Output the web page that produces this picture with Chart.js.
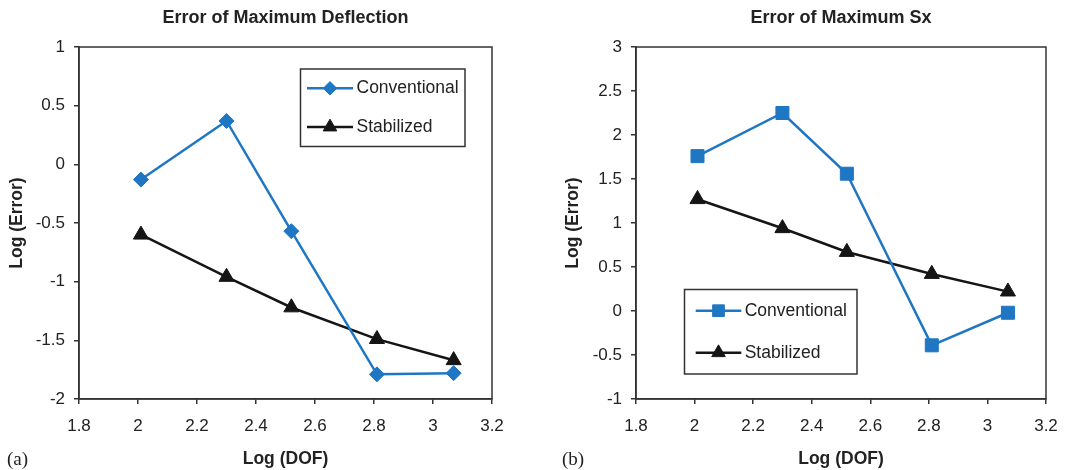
<!DOCTYPE html>
<html>
<head>
<meta charset="utf-8">
<script src="https://cdn.jsdelivr.net/npm/chart.js@4.4.1/dist/chart.umd.min.js"></script>
<style>
  body { margin: 0; background: #fff; }
  #wrap { position: relative; width: 1081px; height: 470px; }
  canvas { position: absolute; top: 0; }
  .tag { position: absolute; top: 448px; font: 19px 'Liberation Serif', 'Times New Roman', serif; color: #222; line-height: 22px; }
</style>
</head>
<body>
<div id="wrap">
  <canvas id="chartA" width="540" height="470" style="left:0"></canvas>
  <canvas id="chartB" width="541" height="470" style="left:540px"></canvas>
  <div class="tag" style="left:7px">(a)</div>
  <div class="tag" style="left:562px">(b)</div>
</div>
<script>
const logDof = [2.01, 2.30, 2.52, 2.81, 3.07];
const deflConventional = [-0.13, 0.37, -0.57, -1.79, -1.78];
const deflStabilized = [-0.60, -0.96, -1.22, -1.49, -1.67];
const sxConventional = [1.76, 2.25, 1.56, -0.39, -0.02];
const sxStabilized = [1.27, 0.94, 0.67, 0.42, 0.22];
const xTicks = [1.8, 2, 2.2, 2.4, 2.6, 2.8, 3, 3.2];
const deflTicks = [-2, -1.5, -1, -0.5, 0, 0.5, 1];
const sxTicks = [-1, -0.5, 0, 0.5, 1, 1.5, 2, 2.5, 3];

const blue = '#1f77c4';
const black = '#151515';
const axisColor = '#333';
const textColor = '#222';
const fontFamily = "'Liberation Sans', Arial, Helvetica, sans-serif";
Chart.defaults.font.family = fontFamily;
Chart.defaults.color = textColor;

const points = ys => ys.map((y, i) => ({ x: logDof[i], y: y }));

// same shapes as chart.js point styles, used for the legend samples
function marker(ctx, style, r, x, y) {
  ctx.beginPath();
  if (style === 'rectRot') {
    ctx.moveTo(x, y - r); ctx.lineTo(x + r, y); ctx.lineTo(x, y + r); ctx.lineTo(x - r, y);
  } else if (style === 'rect') {
    const s = r * Math.SQRT1_2;
    ctx.rect(x - s, y - s, 2 * s, 2 * s);
  } else {
    for (let k = 0; k < 3; k++) {
      const a = k * 2 * Math.PI / 3;
      ctx[k ? 'lineTo' : 'moveTo'](x + Math.sin(a) * r, y - Math.cos(a) * r);
    }
  }
  ctx.closePath();
  ctx.fill();
  ctx.stroke();
}

// box around the plot area and the boxed legend
const framePlugin = {
  id: 'frame',
  afterDraw(chart, args, opts) {
    const { ctx, chartArea: a } = chart;
    ctx.save();
    ctx.strokeStyle = axisColor;
    ctx.lineWidth = 1.5;
    ctx.strokeRect(a.left, a.top, a.right - a.left, a.bottom - a.top);

    const L = opts.legend;
    ctx.strokeRect(L.x, L.y, L.w, L.h);
    ctx.font = '17.5px ' + fontFamily;
    ctx.textBaseline = 'middle';
    chart.data.datasets.forEach((ds, i) => {
      const y = L.rows[i];
      ctx.strokeStyle = ds.borderColor;
      ctx.lineWidth = ds.borderWidth;
      ctx.beginPath();
      ctx.moveTo(L.lineX, y);
      ctx.lineTo(L.lineX + L.lineLen, y);
      ctx.stroke();
      ctx.fillStyle = ds.pointBackgroundColor;
      ctx.lineWidth = 1;
      marker(ctx, ds.pointStyle, ds.pointRadius * 0.9, L.lineX + L.lineLen / 2, y);
      ctx.fillStyle = textColor;
      ctx.fillText(ds.label, L.textX, y);
    });
    ctx.restore();
  }
};

function makeChart(id, cfg) {
  return new Chart(document.getElementById(id), {
    type: 'line',
    data: {
      datasets: [
        {
          label: 'Conventional', data: points(cfg.conv),
          borderColor: blue, backgroundColor: blue,
          pointBackgroundColor: blue, pointBorderColor: blue,
          pointStyle: cfg.convStyle, pointRadius: cfg.convRadius,
          pointBorderWidth: 1, borderWidth: 2.5, tension: 0
        },
        {
          label: 'Stabilized', data: points(cfg.stab),
          borderColor: black, backgroundColor: black,
          pointBackgroundColor: black, pointBorderColor: black,
          pointStyle: 'triangle', pointRadius: 8.7,
          pointBorderWidth: 1, borderWidth: 2.5, tension: 0
        }
      ]
    },
    options: {
      responsive: false,
      animation: false,
      devicePixelRatio: 1,
      layout: { padding: { left: 0, right: cfg.padRight, top: 0, bottom: 0 } },
      plugins: {
        legend: { display: false },
        tooltip: { enabled: false },
        title: {
          display: true, text: cfg.title, fullSize: false, color: textColor,
          font: { size: 18, weight: 'bold' },
          padding: { top: 7.5, bottom: 17.9 }
        },
        frame: { legend: cfg.legend }
      },
      scales: {
        x: {
          type: 'linear', min: 1.8, max: 3.2,
          afterBuildTicks: s => { s.ticks = xTicks.map(v => ({ value: v })); },
          afterFit: s => { s.height = 71; },
          grid: { drawOnChartArea: false, tickLength: 5, color: axisColor, lineWidth: 1.5 },
          border: { color: axisColor, width: 1.5 },
          ticks: { font: { size: 17 }, padding: 12, color: textColor, maxRotation: 0, callback: v => String(v) },
          title: { display: true, text: 'Log (DOF)', color: textColor, font: { size: 17.5, weight: 'bold' }, padding: { top: 0, bottom: 0 } }
        },
        y: {
          type: 'linear', min: cfg.yTicks[0], max: cfg.yTicks[cfg.yTicks.length - 1],
          afterBuildTicks: s => { s.ticks = cfg.yTicks.map(v => ({ value: v })); },
          afterFit: s => { s.width = cfg.yWidth; },
          grid: { drawOnChartArea: false, tickLength: 5, color: axisColor, lineWidth: 1.5 },
          border: { color: axisColor, width: 1.5 },
          ticks: { font: { size: 17 }, padding: 9, color: textColor, callback: v => String(v) },
          title: { display: true, text: 'Log (Error)', color: textColor, font: { size: 17.5, weight: 'bold' }, padding: { top: cfg.yTitlePad, bottom: 0 } }
        }
      }
    },
    plugins: [framePlugin]
  });
}

makeChart('chartA', {
  title: 'Error of Maximum Deflection',
  conv: deflConventional, stab: deflStabilized,
  convStyle: 'rectRot', convRadius: 7.5,
  yTicks: deflTicks, yWidth: 79, yTitlePad: 6.5, padRight: 48,
  legend: { x: 300.5, y: 69, w: 164.5, h: 77.5, rows: [88.3, 127], lineX: 307, lineLen: 46, textX: 356.5 }
});

makeChart('chartB', {
  title: 'Error of Maximum Sx',
  conv: sxConventional, stab: sxStabilized,
  convStyle: 'rect', convRadius: 9.2,
  yTicks: sxTicks, yWidth: 96, yTitlePad: 23, padRight: 35,
  legend: { x: 144.5, y: 289.5, w: 172.5, h: 84.5, rows: [310.7, 352.7], lineX: 155.7, lineLen: 45.6, textX: 204.7 }
});
</script>
</body>
</html>
